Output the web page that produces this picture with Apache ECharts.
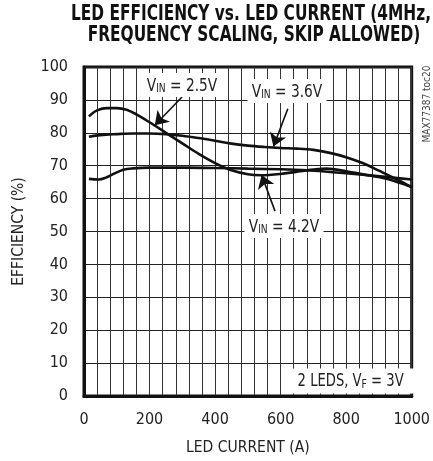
<!DOCTYPE html>
<html><head><meta charset="utf-8">
<script src="https://cdn.jsdelivr.net/npm/echarts@6/dist/echarts.min.js"></script>
<style>html,body{margin:0;padding:0;background:#fff}#c{width:433px;height:461px}</style>
</head><body><div id="c"></div>
<script>
// ---- data ----
const xTicks = [0, 200, 400, 600, 800, 1000];
const vin25 = [[15,85],[40,86.8],[70,87.5],[100,87.5],[130,87],[160,85.6],[200,83.2],[250,80],[300,76.8],[350,73.6],[400,70.8],[450,68.6],[500,67.4],[540,67.1],[600,67.5],[650,68.2],[700,68.8],[740,69.1],[800,68.3],[860,67.2],[920,66.1],[960,64.9],[1000,63.6]];
const vin36 = [[15,78.8],[50,79.3],[100,79.6],[150,79.8],[200,79.8],[250,79.6],[300,79.1],[350,78.4],[400,77.6],[450,76.7],[500,76.1],[550,75.7],[600,75.4],[650,75.2],[700,74.8],[750,73.9],[800,72.6],[850,70.8],[900,68.5],[950,66.1],[1000,63.4]];
const vin42 = [[15,66],[45,65.8],[65,66.3],[90,67.5],[120,68.8],[150,69.2],[200,69.4],[300,69.4],[400,69.3],[500,69.1],[600,68.9],[680,68.6],[750,68.1],[850,67.3],[930,66.5],[1000,65.8]];
const seriesNames = ['VIN = 2.5V', 'VIN = 3.6V', 'VIN = 4.2V'];
const titleLines = ['LED EFFICIENCY vs. LED CURRENT (4MHz,', 'FREQUENCY SCALING, SKIP ALLOWED)'];

const FONT = '"DejaVu Sans Condensed","Liberation Sans",sans-serif';
const chart = echarts.init(document.getElementById('c'), null, {renderer: 'canvas'});

// measure title width so it can be condensed to the reference width
const mctx = document.createElement('canvas').getContext('2d');
const TITLE_FONT = 'bold 21px ' + FONT;
mctx.font = TITLE_FONT;
const titleScale = 360 / mctx.measureText(titleLines[0]).width;

const curveStyle = {color: '#111', width: 2.6};
function curve(name, data, extra) {
  return Object.assign({
    name, type: 'line', data, smooth: 0.35, symbol: 'none',
    lineStyle: curveStyle, itemStyle: {color: '#111'}, z: 3, silent: true, animation: false
  }, extra || {});
}
const arrowLines = {
  silent: true, animation: false, symbol: ['none', 'arrow'], symbolSize: 13,
  lineStyle: {color: '#111', width: 1.6, type: 'solid'}, itemStyle: {color: '#111'}, label: {show: false},
  data: [
    [{coord: [299, 90.9]}, {coord: [216, 82.3]}],
    [{coord: [622, 87.3]}, {coord: [578, 75.8]}],
    [{coord: [583, 56.2]}, {coord: [542, 67.2]}]
  ]
};

function vlabel(x, y, main, sub, rest) {
  return {
    type: 'text', x, y, z: 10, scaleX: 0.85,
    style: {
      text: '{a|' + main + '}{s|' + sub + '}{a|' + rest + '}',
      align: 'center', verticalAlign: 'middle',
      backgroundColor: '#fff', padding: [2, 5, 2, 5],
      rich: {
        a: {fontFamily: FONT, fontSize: 18, fill: '#222', color: '#222', verticalAlign: 'bottom', lineHeight: 20},
        s: {fontFamily: FONT, fontSize: 12, fill: '#222', color: '#222', verticalAlign: 'bottom', lineHeight: 14}
      }
    }
  };
}

chart.setOption({
  animation: false,
  grid: {left: 84, right: 18, top: 67, bottom: 63, show: true, borderColor: '#111', borderWidth: 3, backgroundColor: '#fff'},
  xAxis: {
    type: 'value', min: 0, max: 1000, interval: 40,
    name: 'LED CURRENT (A)', nameLocation: 'middle', nameGap: 44,
    nameTextStyle: {fontFamily: FONT, fontSize: 15.5, color: '#222'},
    axisLine: {show: true, lineStyle: {color: '#111', width: 3}},
    axisTick: {show: false},
    axisLabel: {margin: 16, fontFamily: FONT, fontSize: 16, color: '#222',
      formatter: v => (xTicks.indexOf(v) >= 0 ? String(v) : '')},
    splitLine: {show: true, lineStyle: {color: '#333', width: 1}}
  },
  yAxis: {
    type: 'value', min: 0, max: 100, interval: 10,
    name: 'EFFICIENCY (%)', nameLocation: 'middle', nameGap: 57,
    nameTextStyle: {fontFamily: FONT, fontSize: 15.5, color: '#222'},
    axisLine: {show: true, lineStyle: {color: '#111', width: 3}},
    axisTick: {show: false},
    axisLabel: {margin: 16, fontFamily: FONT, fontSize: 16, color: '#222'},
    splitLine: {show: true, lineStyle: {color: '#222', width: 1}}
  },
  series: [
    curve(seriesNames[0], vin25, {markLine: arrowLines}),
    curve(seriesNames[1], vin36),
    curve(seriesNames[2], vin42)
  ],
  graphic: [
    {type: 'text', x: 251, y: 15, z: 10, scaleX: titleScale, style: {
      text: titleLines[0], align: 'center', verticalAlign: 'middle', font: TITLE_FONT, fill: '#111'}},
    {type: 'text', x: 254, y: 36, z: 10, scaleX: titleScale, style: {
      text: titleLines[1], align: 'center', verticalAlign: 'middle', font: TITLE_FONT, fill: '#111'}},
    vlabel(182, 85, 'V', 'IN', ' = 2.5V'),
    vlabel(287, 91, 'V', 'IN', ' = 3.6V'),
    vlabel(284, 226, 'V', 'IN', ' = 4.2V'),
    {type: 'text', x: 414, y: 381, z: 10, scaleX: 0.86, style: {
      text: '{a|2 LEDS, V}{s|F}{a| = 3V}',
      align: 'right', verticalAlign: 'middle',
      backgroundColor: '#fff', padding: [3, 12, 3, 6],
      rich: {
        a: {fontFamily: FONT, fontSize: 17, fill: '#222', color: '#222', verticalAlign: 'bottom', lineHeight: 19},
        s: {fontFamily: FONT, fontSize: 12, fill: '#222', color: '#222', verticalAlign: 'bottom', lineHeight: 13}
      }}},
    {type: 'text', x: 427, y: 104, rotation: Math.PI / 2, z: 10, style: {
      text: 'MAX77387 toc20', align: 'center', verticalAlign: 'middle',
      font: '10px ' + FONT, fill: '#444'}}
  ]
});
</script></body></html>
